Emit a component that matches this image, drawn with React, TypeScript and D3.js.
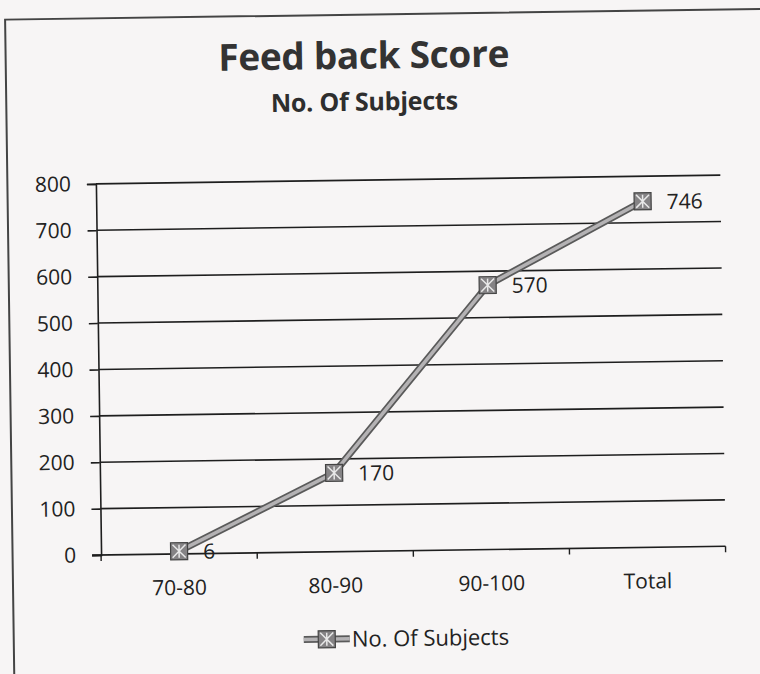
import React, { useEffect, useRef } from 'react'
import * as d3 from 'd3'

const categories = ['70-80', '80-90', '90-100', 'Total']
const subjects = [6, 170, 570, 746]
const yTicks = [0, 100, 200, 300, 400, 500, 600, 700, 800]
const title = 'Feed back Score'
const subtitle = 'No. Of Subjects'
const seriesName = 'No. Of Subjects'

const W = 760
const H = 674
const FONT = '"Open Sans", Lato, sans-serif'
const TILT = 'rotate(-0.8 410 368)' // the scan is slightly tilted

const App = () => {
  const ref = useRef<SVGSVGElement | null>(null)

  useEffect(() => {
    const svg = d3.select(ref.current)
    svg.selectAll('*').remove()

    svg.append('rect').attr('width', W).attr('height', H).attr('fill', '#f7f5f5')

    const page = svg.append('g').attr('transform', TILT)
    // frame of the scanned chart
    page.append('rect')
      .attr('x', 10).attr('y', 14).attr('width', W + 80).attr('height', H + 40)
      .attr('fill', 'none').attr('stroke', '#444').attr('stroke-width', 2)

    const left = 98.5, right = 723, top = 179.5, bottom = 550.7
    const x = d3.scaleBand<string>().domain(categories).range([left, right])
    const y = d3.scaleLinear().domain([0, 800]).range([bottom, top])

    page.append('text').text(title)
      .attr('x', 368).attr('y', 68).attr('text-anchor', 'middle')
      .attr('font-family', FONT).attr('font-weight', 'bold').attr('font-size', 37).attr('fill', '#333')
      .attr('letter-spacing', -0.3)
    page.append('text').text(subtitle)
      .attr('x', 368).attr('y', 110).attr('text-anchor', 'middle')
      .attr('font-family', FONT).attr('font-weight', 'bold').attr('font-size', 25).attr('fill', '#2e2e2e')
      .attr('letter-spacing', -0.2)

    const g = page.append('g')

    // gridlines
    g.selectAll('line.grid').data(yTicks.filter(d => d > 0)).join('line')
      .attr('x1', left).attr('x2', right)
      .attr('y1', d => y(d)).attr('y2', d => y(d))
      .attr('stroke', '#1e1e1e').attr('stroke-width', 1.6)

    const yAxis = d3.axisLeft(y).tickValues(yTicks).tickSize(9).tickPadding(16)
    const ya = g.append('g').attr('transform', `translate(${left},0)`).call(yAxis)
    ya.select('.domain').attr('stroke', '#1e1e1e').attr('stroke-width', 1.6)
    ya.selectAll('line').attr('stroke', '#1e1e1e').attr('stroke-width', 1.6)
    ya.selectAll('text').attr('font-family', FONT).attr('font-size', 21).attr('fill', '#222')

    const xa = g.append('g').attr('transform', `translate(0,${bottom})`)
    xa.append('line').attr('x1', left - 9).attr('x2', right).attr('stroke', '#1e1e1e').attr('stroke-width', 1.6)
    const bounds = categories.map(c => x(c) as number).concat([right])
    xa.selectAll('line.tk').data(bounds).join('line')
      .attr('x1', d => d).attr('x2', d => d).attr('y1', 0).attr('y2', 6)
      .attr('stroke', '#1e1e1e').attr('stroke-width', 1.4)
    xa.selectAll('text').data(categories).join('text')
      .attr('x', d => (x(d) as number) + x.bandwidth() / 2).attr('y', 41)
      .attr('text-anchor', 'middle').attr('font-family', FONT).attr('font-size', 21).attr('fill', '#222')
      .text(d => d)

    const cx = (c: string) => (x(c) as number) + x.bandwidth() / 2
    const line = d3.line<number>().x((_, i) => cx(categories[i])).y(d => y(d))
    g.append('path').datum(subjects).attr('d', line)
      .attr('fill', 'none').attr('stroke', '#5a5a5a').attr('stroke-width', 7)
    g.append('path').datum(subjects).attr('d', line)
      .attr('fill', 'none').attr('stroke', '#b4b2b4').attr('stroke-width', 3.5)

    const marker = (sel: d3.Selection<SVGGElement, unknown, null, undefined>) => {
      const s = 8.5
      sel.append('rect').attr('x', -s).attr('y', -s).attr('width', 2 * s).attr('height', 2 * s)
        .attr('fill', '#858385').attr('stroke', '#444').attr('stroke-width', 1.2)
      sel.append('path').attr('d', `M${-s + 2},${-s + 2}L${s - 2},${s - 2}M${s - 2},${-s + 2}L${-s + 2},${s - 2}M0,${-s + 2}L0,${s - 2}`)
        .attr('stroke', '#e8e8e8').attr('stroke-width', 1.5)
    }

    subjects.forEach((v, i) => {
      const mg = g.append('g').attr('transform', `translate(${cx(categories[i])},${y(v)})`)
      marker(mg)
      g.append('text').text(String(v))
        .attr('x', cx(categories[i]) + 24).attr('y', y(v) + 8)
        .attr('font-family', FONT).attr('font-size', 21).attr('fill', '#222')
    })

    // legend
    const lg = page.append('g').attr('transform', 'translate(300,638)')
    lg.append('line').attr('x1', 0).attr('x2', 46).attr('stroke', '#5a5a5a').attr('stroke-width', 7)
    lg.append('line').attr('x1', 0).attr('x2', 46).attr('stroke', '#b4b2b4').attr('stroke-width', 3.5)
    marker(lg.append('g').attr('transform', 'translate(23,0)'))
    lg.append('text').text(seriesName).attr('x', 48).attr('y', 8)
      .attr('font-family', FONT).attr('font-size', 22).attr('fill', '#222')
  }, [])

  return (
    <div style={{ position: 'fixed', left: 0, top: 0, width: W, height: H, overflow: 'hidden' }}>
      <svg ref={ref} width={W} height={H} style={{ display: 'block' }} />
    </div>
  )
}

export default App
